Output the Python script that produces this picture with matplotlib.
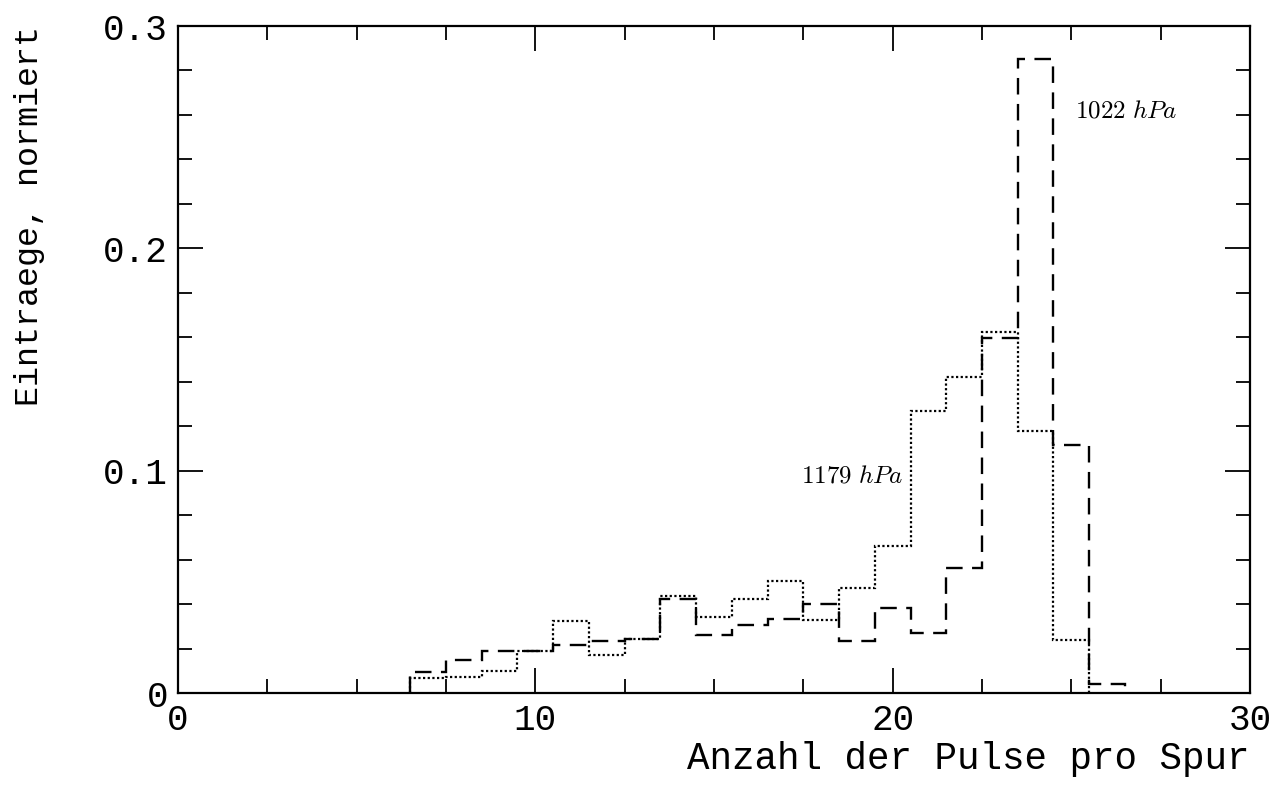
import numpy as np
import matplotlib
matplotlib.use('Agg')
import matplotlib.pyplot as plt

# bin edges (integer-centred bins, width 1)
edges_1022 = np.arange(6.5, 27.0, 1.0)   # bins 7..26
edges_1179 = np.arange(6.5, 26.0, 1.0)   # bins 7..25

# normalised entries
vals_1022 = [0.0093, 0.0150, 0.0190, 0.0189, 0.0216, 0.0233, 0.0242, 0.0423,
             0.0260, 0.0304, 0.0331, 0.0400, 0.0235, 0.0383, 0.0271, 0.0562,
             0.1596, 0.2851, 0.1114, 0.0040]
vals_1179 = [0.0066, 0.0073, 0.0100, 0.0189, 0.0325, 0.0170, 0.0242, 0.0438,
             0.0343, 0.0424, 0.0505, 0.0330, 0.0471, 0.0663, 0.1269, 0.1423,
             0.1622, 0.1179, 0.0238]

xticks = [0, 10, 20, 30]
yticks = [0, 0.1, 0.2, 0.3]
ytick_labels = ['0', '0.1', '0.2', '0.3']

plt.rcParams['font.family'] = ['Liberation Mono', 'DejaVu Sans Mono']
plt.rcParams['mathtext.fontset'] = 'cm'

fig = plt.figure(figsize=(12.84, 8.01), dpi=100)
ax = fig.add_axes([0.1386, 0.1348, 0.8349, 0.8327])

ax.stairs(vals_1022, edges_1022, baseline=0, color='black', lw=1.7,
          linestyle=(0, (7, 4)))
ax.stairs(vals_1179, edges_1179, baseline=0, color='black', lw=1.6,
          linestyle=(0, (1.0, 1.1)))

ax.text(25.1, 0.262, r'$\mathrm{1022}\ hPa$', fontsize=18, ha='left', va='center')
ax.text(20.3, 0.098, r'$\mathrm{1179}\ hPa$', fontsize=18, ha='right', va='center')

ax.set_xlim(0, 30)
ax.set_ylim(0, 0.3)
ax.set_xticks(xticks)
ax.set_xticks(np.arange(0, 30.1, 2.5), minor=True)
ax.set_yticks(yticks)
ax.set_yticklabels(ytick_labels)
ax.set_yticks(np.arange(0, 0.301, 0.02), minor=True)

ax.tick_params(which='both', direction='in', top=True, right=True,
               width=1.3, labelsize=26)
ax.tick_params(which='major', length=18, pad=7)
ax.tick_params(which='minor', length=10)
for s in ax.spines.values():
    s.set_linewidth(1.6)

ax.set_xlabel('Anzahl der Pulse pro Spur', fontsize=27, loc='right', labelpad=2)
ax.set_ylabel('Eintraege, normiert', fontsize=24, loc='top', labelpad=42)

fig.savefig('out.png', dpi=100)
